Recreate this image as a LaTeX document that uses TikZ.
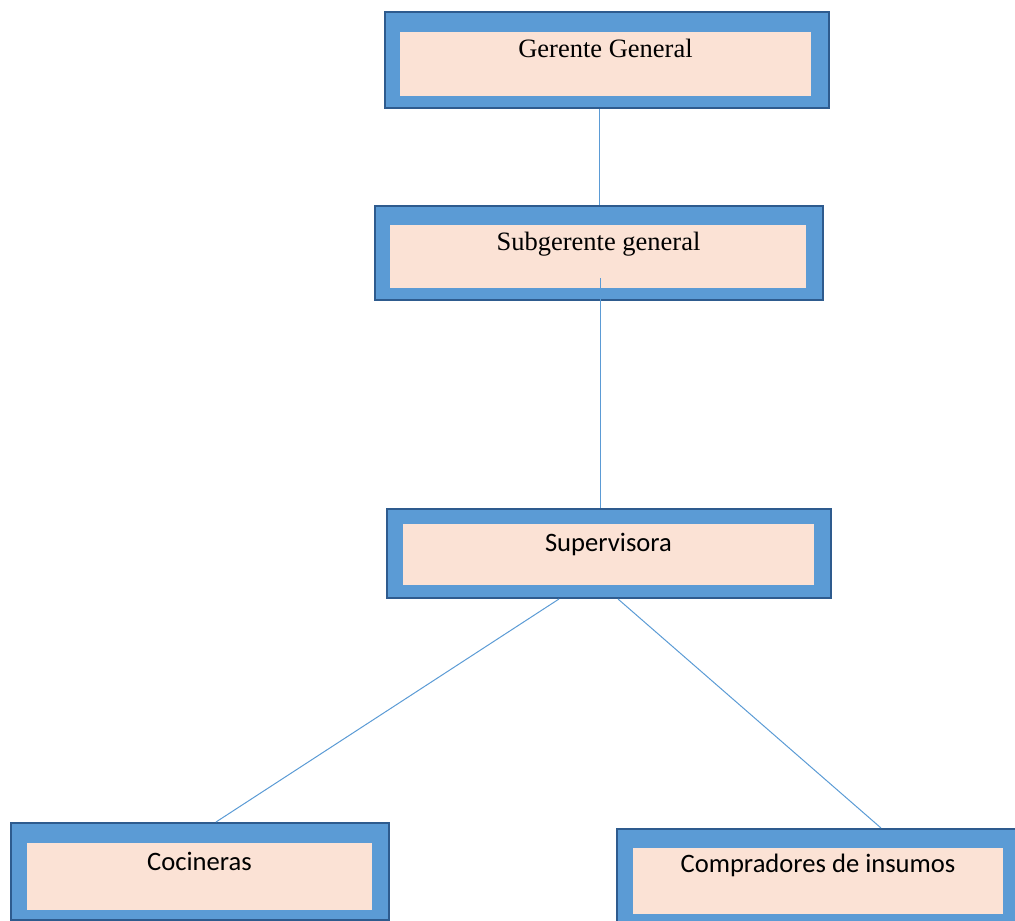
\documentclass[tikz,border=0pt]{standalone}
\usepackage{fontspec}
\usetikzlibrary{calc}
\setmainfont{Liberation Serif}
\newfontfamily\calibrifont{Carlito}
\definecolor{boxblue}{HTML}{5B9BD5}
\definecolor{boxedge}{HTML}{2E5B8E}
\definecolor{peach}{HTML}{FBE2D5}
\begin{document}
\begin{tikzpicture}[x=1pt,y=-1pt,
  outerbox/.style={draw=boxedge, line width=2pt, fill=boxblue, inner sep=0pt, anchor=north west},
  innerbox/.style={fill=peach, inner sep=0pt, anchor=north west},
  serifl/.style={anchor=base, inner sep=0pt, font=\fontsize{26.5}{30}\selectfont},
  sansl/.style={anchor=base, inner sep=0pt, font=\calibrifont\fontsize{26.6}{30}\selectfont},
  link/.style={draw=boxblue, line width=1pt}]
\useasboundingbox (0,0) rectangle (1015,921);
\clip (0,0) rectangle (1015,921);
% Gerente General
\node[outerbox, minimum width=444pt, minimum height=96pt] (g1) at (384,11) {};
\node[innerbox, minimum width=411pt, minimum height=64pt] (g1i) at (400,32) {};
\node[serifl] (t1) at (605.5,57) {Gerente General};
% Subgerente general
\node[outerbox, minimum width=448pt, minimum height=94pt] (g2) at (374,205) {};
\node[innerbox, minimum width=416pt, minimum height=63pt] (g2i) at (390,225) {};
\node[serifl] (t2) at (598.5,250) {Subgerente general};
% Supervisora
\node[outerbox, minimum width=444pt, minimum height=89pt] (g3) at (386,508) {};
\node[innerbox, minimum width=411pt, minimum height=61pt] (g3i) at (403,524) {};
\node[sansl] (t3) at (608.5,551) {Supervisora};
% Cocineras
\node[outerbox, minimum width=378pt, minimum height=97pt] (g4) at (10,822) {};
\node[innerbox, minimum width=345pt, minimum height=67pt] (g4i) at (27,843) {};
\node[sansl] (t4) at (199.5,870) {Cocineras};
% Compradores de insumos
\node[outerbox, minimum width=410pt, minimum height=100pt] (g5) at (616,828) {};
\node[innerbox, minimum width=370pt, minimum height=66pt] (g5i) at (633,848) {};
\node[sansl] (t5) at (818,872) {Compradores de insumos};
% connectors
\coordinate (c2) at ($(g2i.south)+(2,-10)$);
\draw[link] (g2.north) -- (g2.north |- g1.south);
\draw[link] (c2) -- (c2 |- g3.north);
\coordinate (c3a) at ($(g3.south)+(-50,0)$);
\coordinate (c3b) at ($(g3.south)+(9,0)$);
\coordinate (c4) at ($(g4.north)+(16,0)$);
\coordinate (c5) at ($(g5.north)+(59,0)$);
\draw[link] (c3a) -- (c4);
\draw[link] (c3b) -- (c5);
\end{tikzpicture}
\end{document}
